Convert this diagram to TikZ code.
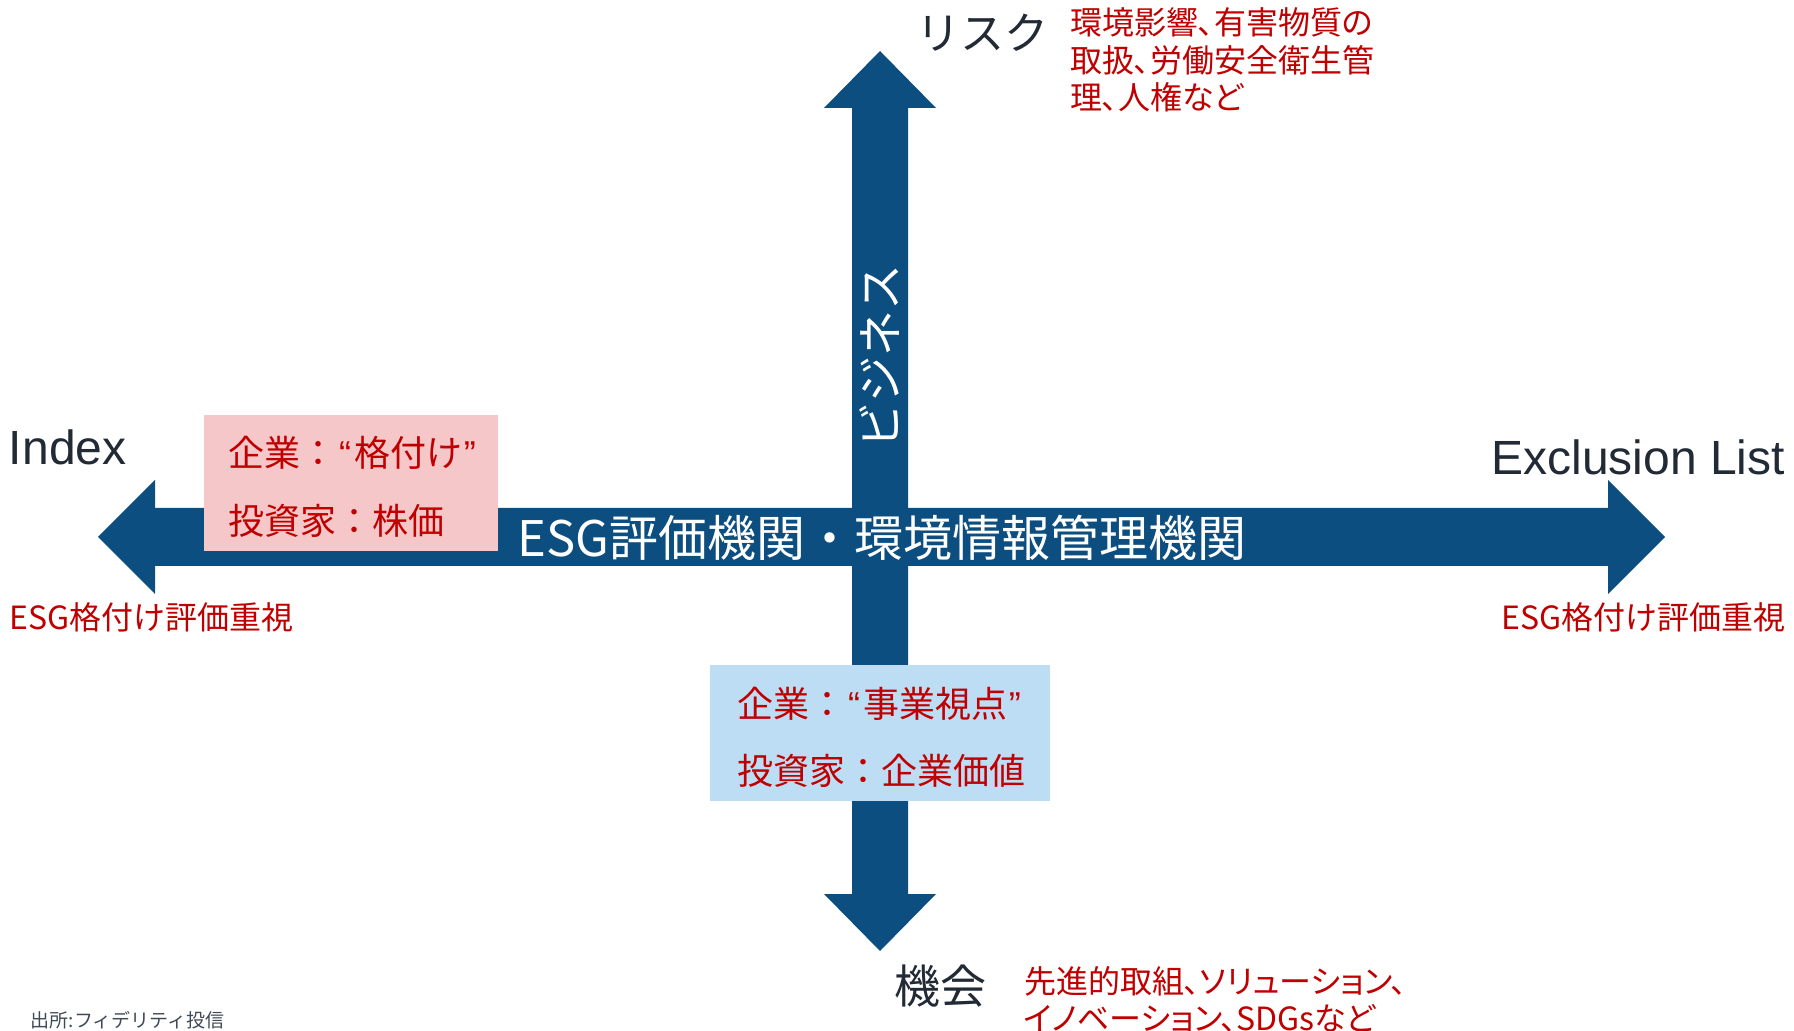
\documentclass[tikz,border=0pt]{standalone}
\usepackage{fontspec}
\setmainfont{Liberation Sans}
\newfontfamily\jp{Noto Sans CJK JP}
\newfontfamily\jpp[RawFeature={+palt}]{Noto Sans CJK JP}
\definecolor{arrowblue}{RGB}{13,78,128}
\definecolor{darktext}{RGB}{34,42,53}
\definecolor{redtext}{RGB}{192,0,0}
\definecolor{pinkfill}{RGB}{245,199,201}
\definecolor{bluefill}{RGB}{189,221,245}
\definecolor{greytext}{RGB}{64,74,86}
\tikzset{
  bigarrow/.style={fill=arrowblue},
  axislabel/.style={text=darktext, font=\fontsize{24}{28}\selectfont},
  axisjp/.style={text=darktext, font=\jp\fontsize{22}{28}\selectfont},
  rednote/.style={text=redtext, align=left, font=\jpp\fontsize{16}{18.75}\selectfont},
  boxbg/.style={minimum width=147pt, minimum height=68pt},
  boxtext/.style={text=redtext, anchor=west, font=\jp\fontsize{18}{22}\selectfont},
  whitetext/.style={text=white, font=\jp\fontsize{24.5}{28}\selectfont},
}
\newcommand{\myLq}{{\rmfamily\kern1.5pt “\kern2pt}}
\newcommand{\myRq}{{\rmfamily\kern0.5pt ”}}
\begin{document}
\begin{tikzpicture}[x=0.5pt,y=-0.5pt, every node/.style={inner sep=0pt, outer sep=0pt}]
\useasboundingbox (0,0) rectangle (1794,1031);
% arrows
\fill[bigarrow] (98,537) -- (155,480) -- (155,508) -- (1608,508) -- (1608,480) -- (1665,537) -- (1608,594) -- (1608,566) -- (155,566) -- (155,594) -- cycle;
\fill[bigarrow] (880,51) -- (936,108) -- (908,108) -- (908,894) -- (936,894) -- (880,951) -- (824,894) -- (852,894) -- (852,108) -- (824,108) -- cycle;
% boxes
\node[boxbg, fill=pinkfill] (pink) at (351,483) {};
\node[boxbg, fill=bluefill, minimum width=170pt] (blue) at (880,733) {};
\node[boxtext] (pink1) at (228,453) {企業：\myLq 格付け\myRq};
\node[boxtext] (pink2) at (228,521) {投資家：株価};
\node[boxtext] (blue1) at (737,704) {企業：\myLq 事業視点\myRq};
\node[boxtext] (blue2) at (737,771) {投資家：企業価値};
% arrow texts
\node[whitetext] (main) at (882,538) {ESG評価機関・環境情報管理機関};
\node[whitetext, font=\jp\fontsize{23}{26}\selectfont, rotate=90] (biz) at (880,357) {ビジネス};
% axis labels
\node[axislabel, anchor=base west] (index) at (9,465) {Index};
\node[axislabel, anchor=base east] (excl) at (1785,475) {Exclusion List};
\node[axisjp, anchor=west] (risk) at (916,33) {リスク};
\node[axisjp, anchor=west, font=\jp\fontsize{23}{28}\selectfont] (opp) at (894,986) {機会};
% red notes
\node[rednote, anchor=north west] (risknote) at (1070,8) {環境影響、有害物質の\\取扱、労働安全衛生管\\理、人権など};
\node[rednote, anchor=north west] (oppnote) at (1024,966) {先進的取組、ソリューション、\\イノベーション、SDGsなど};
\node[rednote, anchor=west] (leftnote) at (10,617) {ESG格付け評価重視};
\node[rednote, anchor=east] (rightnote) at (1785,617) {ESG格付け評価重視};
% source
\node[text=greytext, anchor=west, font=\jp\fontsize{9.5}{11}\selectfont] (src) at (31,1020) {出所:フィデリティ投信};
\end{tikzpicture}
\end{document}
